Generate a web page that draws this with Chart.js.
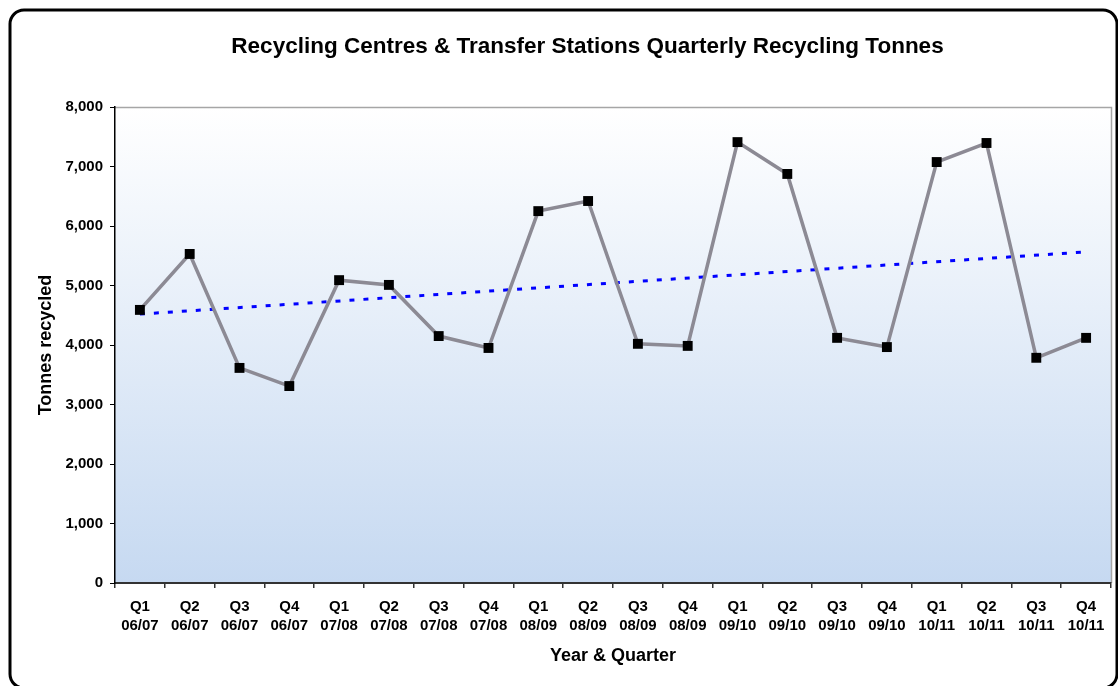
<!DOCTYPE html>
<html>
<head>
<meta charset="utf-8">
<script src="https://cdn.jsdelivr.net/npm/chart.js@4/dist/chart.umd.min.js"></script>
<style>
html,body{margin:0;padding:0;background:#fff;overflow:hidden}
#wrap{position:relative;width:1118px;height:686px}
</style>
</head>
<body>
<div id="wrap"><canvas id="c" width="1118" height="686"></canvas></div>
<script>
const categories = [
  "Q1 06/07","Q2 06/07","Q3 06/07","Q4 06/07",
  "Q1 07/08","Q2 07/08","Q3 07/08","Q4 07/08",
  "Q1 08/09","Q2 08/09","Q3 08/09","Q4 08/09",
  "Q1 09/10","Q2 09/10","Q3 09/10","Q4 09/10",
  "Q1 10/11","Q2 10/11","Q3 10/11","Q4 10/11"
];
const tonnes = [
  4590, 5530, 3615, 3310,
  5090, 5010, 4150, 3950,
  6250, 6420, 4020, 3985,
  7410, 6875, 4120, 3965,
  7075, 7395, 3785, 4120
];
// linear trend line end points
const trendStart = 4520;
const trendEnd = 5565;
const yTickValues = [0, 1000, 2000, 3000, 4000, 5000, 6000, 7000, 8000];

const FONT = "'Liberation Sans', Arial, sans-serif";
Chart.defaults.color = '#000';
Chart.defaults.font.family = FONT;

const bgPlugin = {
  id: 'bg',
  afterLayout(chart) {
    // centre the title a little to the right, as in the original
    const t = chart.titleBlock;
    if (t) { t.left = 64; t.width = t.right - t.left; }
  },
  beforeDraw(chart) {
    const ctx = chart.ctx;
    const a = chart.chartArea;
    ctx.save();
    ctx.fillStyle = '#fff';
    ctx.fillRect(0, 0, chart.width, chart.height);
    // outer rounded frame
    ctx.beginPath();
    ctx.lineWidth = 3;
    ctx.strokeStyle = '#000';
    ctx.roundRect(10, 10, 1107, 678, 14);
    ctx.stroke();
    // plot area gradient
    const g = ctx.createLinearGradient(0, a.top, 0, a.bottom);
    g.addColorStop(0, '#ffffff');
    g.addColorStop(1, '#c6d9f1');
    ctx.fillStyle = g;
    ctx.fillRect(a.left, a.top, a.right - a.left, a.bottom - a.top);
    // plot area top/right border
    ctx.beginPath();
    ctx.lineWidth = 1.5;
    ctx.strokeStyle = '#a6a6a6';
    ctx.moveTo(a.left, a.top + 0.5);
    ctx.lineTo(a.right + 0.5, a.top + 0.5);
    ctx.lineTo(a.right + 0.5, a.bottom);
    ctx.stroke();
    ctx.restore();
  }
};

new Chart(document.getElementById('c'), {
  type: 'line',
  data: {
    labels: categories,
    datasets: [
      {
        label: 'Tonnes',
        data: tonnes,
        borderColor: '#8c8a94',
        borderWidth: 3.5,
        pointStyle: 'rect',
        pointRadius: 7,
        pointBackgroundColor: '#000',
        pointBorderColor: '#000',
        pointBorderWidth: 0,
        tension: 0,
        fill: false
      },
      {
        label: 'Trend',
        data: [
          { x: categories[0], y: trendStart },
          { x: categories[categories.length - 1], y: trendEnd }
        ],
        borderColor: '#0000ff',
        borderWidth: 3,
        borderDash: [5, 9],
        pointRadius: 0,
        fill: false
      }
    ]
  },
  options: {
    responsive: false,
    animation: false,
    devicePixelRatio: 1,
    layout: { padding: { left: 20, right: 7, top: 0, bottom: 0 } },
    plugins: {
      legend: { display: false },
      tooltip: { enabled: false },
      title: {
        display: true,
        text: 'Recycling Centres & Transfer Stations Quarterly Recycling Tonnes',
        color: '#000',
        font: { family: FONT, size: 22.5, weight: 'bold', lineHeight: 1.2 },
        padding: { top: 33, bottom: 47 }
      }
    },
    scales: {
      x: {
        offset: true,
        grid: { offset: true, drawOnChartArea: false, drawTicks: true, tickLength: 5, color: '#333', lineWidth: 1.5 },
        border: { display: true, color: '#333', width: 2 },
        ticks: {
          autoSkip: false,
          maxRotation: 0,
          padding: 9,
          color: '#000',
          font: { family: FONT, size: 15, weight: 'bold', lineHeight: 1.3 },
          callback: function(v, i) { return categories[i].split(' '); }
        },
        title: {
          display: true,
          text: 'Year & Quarter',
          color: '#000',
          font: { family: FONT, size: 18, weight: 'bold', lineHeight: 1.2 },
          padding: { top: 0, bottom: 19 }
        },
        afterFit(scale) { scale.height = 103; }
      },
      y: {
        min: 0,
        max: 8000,
        afterBuildTicks(scale) { scale.ticks = yTickValues.map(v => ({ value: v })); },
        grid: { drawOnChartArea: false, drawTicks: true, tickLength: 5, color: '#000', lineWidth: 1 },
        border: { display: true, color: '#000', width: 1.5 },
        ticks: {
          padding: 7,
          color: '#000',
          font: { family: FONT, size: 15, weight: 'bold' },
          callback: v => v.toLocaleString('en-US')
        },
        title: {
          display: true,
          text: 'Tonnes recycled',
          color: '#000',
          font: { family: FONT, size: 18, weight: 'bold', lineHeight: 1.2 },
          padding: { top: 15, bottom: 0 }
        },
        afterFit(scale) { scale.width = 95; }
      }
    }
  },
  plugins: [bgPlugin]
});
</script>
</body>
</html>
